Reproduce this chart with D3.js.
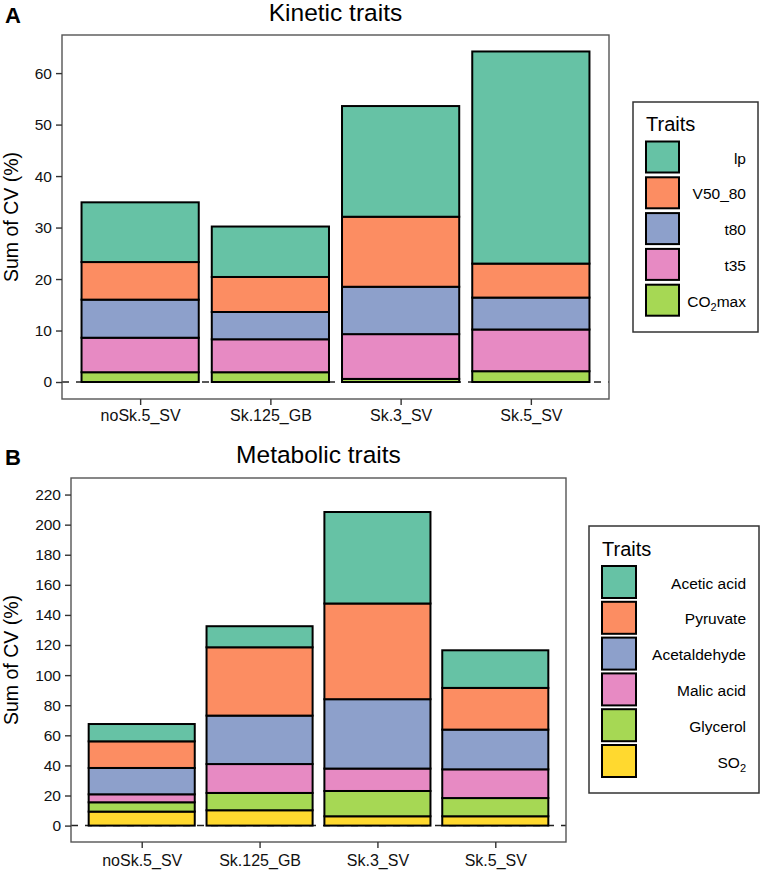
<!DOCTYPE html>
<html><head><meta charset="utf-8">
<script src="https://cdn.jsdelivr.net/npm/d3@7"></script>
<style>body{margin:0;background:#fff;} svg{display:block;font-family:"Liberation Sans",Arial,sans-serif;}</style>
</head><body>
<script>
// ---------- data ----------
const categories = ["noSk.5_SV", "Sk.125_GB", "Sk.3_SV", "Sk.5_SV"];

// Kinetic traits (stack order bottom -> top)
const kineticTraits = ["CO2max", "t35", "t80", "V50_80", "lp"];
const kinCO2max = [1.9, 1.9, 0.6, 2.1];
const kinT35    = [6.7, 6.4, 8.7, 8.1];
const kinT80    = [7.4, 5.3, 9.2, 6.2];
const kinV50_80 = [7.3, 6.8, 13.6, 6.6];
const kinLp     = [11.6, 9.8, 21.5, 41.2];
const kineticTicks = [0, 10, 20, 30, 40, 50, 60];

// Metabolic traits (stack order bottom -> top)
const metabolicTraits = ["SO2", "Glycerol", "Malic acid", "Acetaldehyde", "Pyruvate", "Acetic acid"];
const metSO2          = [9.3, 10.2, 6.2, 6.2];
const metGlycerol     = [6.2, 11.5, 16.8, 12.1];
const metMalic        = [5.3, 19.2, 14.9, 19.1];
const metAcetaldehyde = [17.5, 32.2, 46.1, 26.4];
const metPyruvate     = [17.7, 45.4, 63.6, 27.7];
const metAcetic       = [11.5, 14.0, 60.8, 25.0];
const metabolicTicks = [0, 20, 40, 60, 80, 100, 120, 140, 160, 180, 200, 220];

const set2 = ["#66c2a5", "#fc8d62", "#8da0cb", "#e78ac3", "#a6d854", "#ffd92f"];

// ---------- drawing ----------
const W = 762, H = 872;
const svg = d3.select("body").append("svg").attr("width", W).attr("height", H);

function panel(opt) {
  const {letter, title, box, yDomain, ticks, traits, series, colors, legend, letterY, titleY, xLabY} = opt;
  const g = svg.append("g");
  // ggplot-like discrete axis: 0.6 expansion each side, bar width 0.9
  const step = (box.r - box.l) / (categories.length - 1 + 1.2);
  const cx = c => box.l + step * (0.6 + categories.indexOf(c));
  const bw = step * 0.9;
  const y = d3.scaleLinear().domain(yDomain).range([box.b, box.t]);

  svg.append("text").attr("x", 5).attr("y", letterY).attr("font-size", 22).attr("font-weight", "bold").text(letter);
  svg.append("text").attr("x", (box.l + box.r) / 2).attr("y", titleY).attr("text-anchor", "middle").attr("font-size", 24.5).text(title);

  // dashed zero line
  g.append("line").attr("x1", box.l).attr("x2", box.r).attr("y1", y(0)).attr("y2", y(0))
    .attr("stroke", "#222").attr("stroke-width", 1.5).attr("stroke-dasharray", "7,7");

  const rows = categories.map((c, i) => {
    const o = {cat: c};
    traits.forEach((t, k) => o[t] = series[k][i]);
    return o;
  });
  const stack = d3.stack().keys(traits)(rows);
  stack.forEach((layer, k) => {
    g.selectAll(null).data(layer).enter().append("rect")
      .attr("x", d => cx(d.data.cat) - bw / 2)
      .attr("width", bw)
      .attr("y", d => y(d[1]))
      .attr("height", d => y(d[0]) - y(d[1]))
      .attr("fill", colors[k]).attr("stroke", "#000").attr("stroke-width", 2);
  });

  g.append("rect").attr("x", box.l).attr("y", box.t).attr("width", box.r - box.l).attr("height", box.b - box.t)
    .attr("fill", "none").attr("stroke", "#555").attr("stroke-width", 1.4);

  const ya = g.append("g").attr("transform", `translate(${box.l},0)`)
    .call(d3.axisLeft(y).tickValues(ticks).tickSize(6).tickPadding(4));
  ya.select(".domain").remove();
  ya.selectAll("line").attr("stroke", "#333").attr("stroke-width", 1.4);
  ya.selectAll("text").attr("font-size", 15.5).attr("fill", "#111").attr("font-family", "Liberation Sans, Arial, sans-serif");

  const xs = d3.scalePoint().domain(categories).range([cx(categories[0]), cx(categories[categories.length - 1])]);
  const xa = g.append("g").attr("transform", `translate(0,${box.b})`)
    .call(d3.axisBottom(xs).tickSize(6).tickPadding(4));
  xa.select(".domain").remove();
  xa.selectAll("line").attr("stroke", "#333").attr("stroke-width", 1.4);
  xa.selectAll("text").attr("font-size", 16).attr("fill", "#111").attr("font-family", "Liberation Sans, Arial, sans-serif")
    .attr("dy", null).attr("y", xLabY - box.b);

  svg.append("text").attr("transform", `translate(${opt.yLabX},${(box.t + box.b) / 2}) rotate(-90)`)
    .attr("text-anchor", "middle").attr("font-size", 19.5).text("Sum of CV (%)");

  const L = legend;
  svg.append("rect").attr("x", L.x).attr("y", L.y).attr("width", L.w).attr("height", L.h)
    .attr("fill", "#fff").attr("stroke", "#333").attr("stroke-width", 1.5);
  svg.append("text").attr("x", L.kx).attr("y", L.titleY).attr("font-size", 20).text("Traits");
  const rev = traits.slice().reverse();
  rev.forEach((t, i) => {
    const k = traits.indexOf(t);
    const ky = L.ky + i * L.step;
    svg.append("rect").attr("x", L.kx).attr("y", ky).attr("width", L.ks).attr("height", L.ks - 2)
      .attr("fill", colors[k]).attr("stroke", "#000").attr("stroke-width", 2);
    const tx = svg.append("text").attr("x", L.tx).attr("y", ky + L.ks / 2 + 5.5)
      .attr("text-anchor", "end").attr("font-size", 15.5);
    const m = t.match(/^(.*?O)2(.*)$/);
    if (m) {
      tx.append("tspan").text(m[1]);
      tx.append("tspan").attr("font-size", 11).attr("dy", 4).text("2");
      tx.append("tspan").attr("dy", -4).text(m[2]);
    } else tx.text(t);
  });
}

panel({
  letter: "A", title: "Kinetic traits", letterY: 23, titleY: 21,
  box: {l: 62, r: 609, t: 35, b: 399},
  yDomain: [-3.3, 67.4], ticks: kineticTicks,
  traits: kineticTraits, series: [kinCO2max, kinT35, kinT80, kinV50_80, kinLp],
  colors: [set2[4], set2[3], set2[2], set2[1], set2[0]],
  xLabY: 421, yLabX: 18,
  legend: {x: 633, y: 102, w: 125, h: 230, kx: 646, ky: 141.5, ks: 33, step: 35.8, tx: 746, titleY: 131}
});

panel({
  letter: "B", title: "Metabolic traits", letterY: 465, titleY: 463,
  box: {l: 71, r: 566, t: 478, b: 842},
  yDomain: [-10.9, 231], ticks: metabolicTicks,
  traits: metabolicTraits, series: [metSO2, metGlycerol, metMalic, metAcetaldehyde, metPyruvate, metAcetic],
  colors: [set2[5], set2[4], set2[3], set2[2], set2[1], set2[0]],
  xLabY: 866, yLabX: 18,
  legend: {x: 589, y: 526, w: 170, h: 267, kx: 602, ky: 566, ks: 34, step: 35.8, tx: 746, titleY: 556}
});
</script>
</body></html>
